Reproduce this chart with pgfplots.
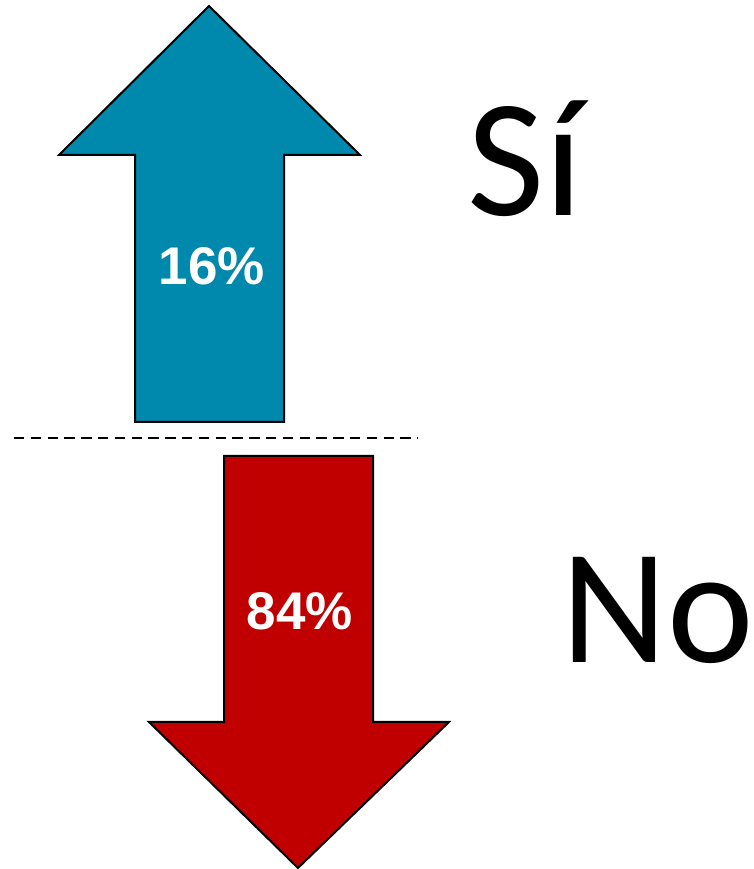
\documentclass[border=0pt]{standalone}
\usepackage{pgfplots}
\pgfplotsset{compat=1.18}
\usepackage{fontspec}
\setmainfont{Liberation Sans}
\newfontfamily\calibri{Carlito}
\definecolor{siblue}{RGB}{0,136,173}
\definecolor{nored}{RGB}{192,0,0}

\begin{document}
\begin{tikzpicture}
\begin{axis}[
    scale only axis,
    width=377pt, height=434.5pt,
    xmin=0, xmax=754, ymin=0, ymax=869,
    hide axis, clip=false,
]
% arrow "Si" (16%)
\addplot[fill=siblue, draw=black, line width=1pt] coordinates {
    (209,863) (360,714) (284,714) (284,447) (135,447) (135,714) (59,714)
} -- cycle;
% arrow "No" (84%)
\addplot[fill=nored, draw=black, line width=1pt] coordinates {
    (224,413) (373,413) (373,147) (449,147) (298,1) (149,147) (224,147)
} -- cycle;
% separator
\addplot[black, line width=1.3pt, dash pattern=on 5.2pt off 3.2pt] coordinates {(14,431) (418,431)};

\node[text=white, font=\fontsize{26.5}{28}\selectfont\bfseries] at (axis cs:212,603) {16\%};
\node[text=white, font=\fontsize{26.5}{28}\selectfont\bfseries] at (axis cs:300,258) {84\%};
\node[anchor=base west, inner sep=0pt, font=\calibri\fontsize{84}{88}\selectfont] at (axis cs:467,653) {Sí};
\node[anchor=base west, inner sep=0pt, font=\calibri\fontsize{82}{86}\selectfont] at (axis cs:561,206) {No};
\end{axis}
\pgfresetboundingbox
\useasboundingbox (current axis.south west) rectangle (current axis.north east);
\end{tikzpicture}
\end{document}
